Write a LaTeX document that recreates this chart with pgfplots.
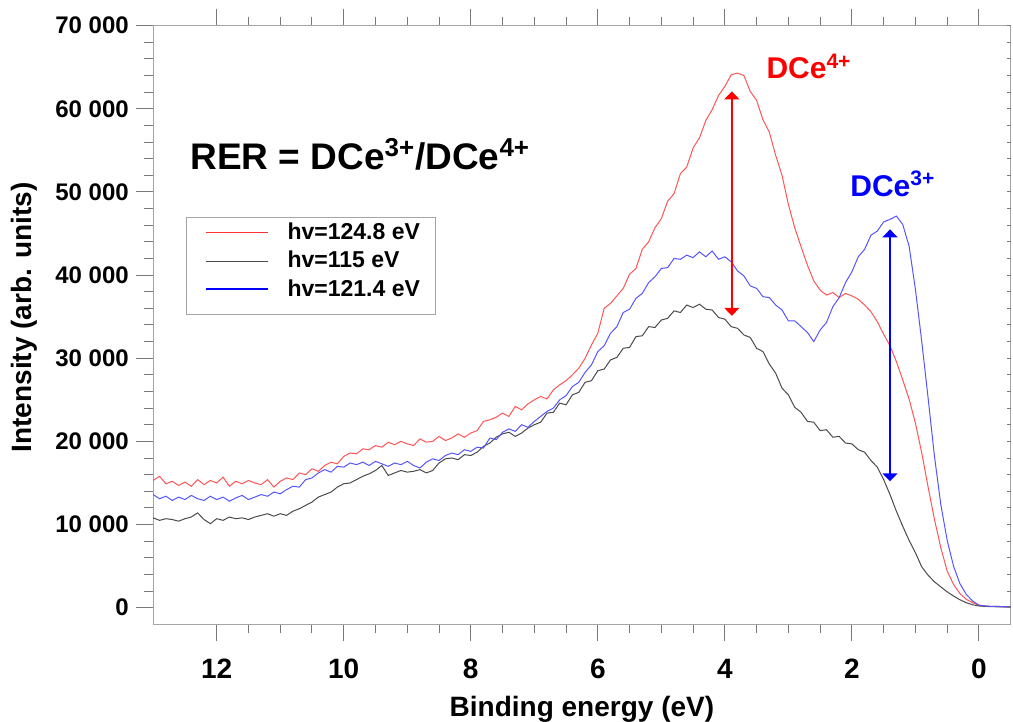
\documentclass[border=0pt]{standalone}
\usepackage{fontspec}
\setmainfont{Liberation Sans}
\usepackage{pgfplots}
\pgfplotsset{compat=1.18}
\usetikzlibrary{arrows.meta}

\definecolor{lineRed}{RGB}{255,85,85}
\definecolor{lineBlack}{RGB}{75,75,75}
\definecolor{lineBlue}{RGB}{85,85,255}
\definecolor{axgray}{RGB}{165,165,165}
\definecolor{tickgray}{RGB}{120,120,120}

% hv = 124.8 eV
\pgfplotstableread{
E I
13.0 15300
12.9 15800
12.8 14900
12.7 15200
12.6 14700
12.5 15100
12.4 14600
12.3 15400
12.2 14800
12.1 15300
12.0 15000
11.9 15700
11.8 14600
11.7 15200
11.6 14900
11.5 15300
11.4 15000
11.3 14800
11.2 15400
11.1 14500
11.0 15200
10.9 15600
10.8 15400
10.7 16200
10.6 16000
10.5 16700
10.4 16400
10.3 17100
10.2 17500
10.1 17300
10.0 18200
9.9 18600
9.8 18500
9.7 19100
9.6 19000
9.5 19500
9.4 19300
9.3 19900
9.2 19600
9.1 20000
9.0 19700
8.9 19500
8.8 20300
8.7 19900
8.6 20000
8.5 20600
8.4 20100
8.3 20400
8.2 20900
8.1 20500
8.0 21000
7.9 21300
7.8 22400
7.7 22600
7.6 22900
7.5 23400
7.4 23000
7.3 24200
7.2 23800
7.1 24500
7.0 25000
6.9 25400
6.8 25100
6.7 26200
6.6 26800
6.5 27300
6.4 28000
6.3 28800
6.2 30000
6.1 31600
6.0 33000
5.9 36000
5.8 36600
5.7 37500
5.6 38400
5.5 40100
5.4 40800
5.3 43100
5.2 44000
5.1 45700
5.0 46800
4.9 48900
4.8 49800
4.7 52200
4.6 53000
4.5 55300
4.4 56500
4.3 58600
4.2 59900
4.1 61600
4.0 62700
3.9 64100
3.8 64300
3.7 64000
3.6 62100
3.5 61000
3.4 58700
3.3 57200
3.2 54400
3.1 52000
3.0 48500
2.9 45700
2.8 43400
2.7 41200
2.6 39300
2.5 38200
2.4 37600
2.3 37900
2.2 37300
2.1 37800
2.0 37500
1.9 37100
1.8 36400
1.7 35600
1.6 34400
1.5 32900
1.4 31500
1.3 29600
1.2 27400
1.1 25100
1.0 22200
0.9 18600
0.8 14500
0.7 10600
0.6 7200
0.5 4400
0.4 2800
0.3 1700
0.2 1000
0.1 600
0.0 300
-0.1 200
-0.2 150
-0.3 150
-0.4 100
-0.5 100
}\seriesA

% hv = 115 eV
\pgfplotstableread{
E I
13.0 10800
12.9 10500
12.8 10700
12.7 10600
12.6 10400
12.5 10700
12.4 10900
12.3 11400
12.2 10600
12.1 10100
12.0 10700
11.9 10500
11.8 10900
11.7 10700
11.6 10800
11.5 10600
11.4 10900
11.3 11100
11.2 11300
11.1 11000
11.0 11300
10.9 11100
10.8 11600
10.7 11900
10.6 12300
10.5 12700
10.4 13300
10.3 13600
10.2 13900
10.1 14500
10.0 14900
9.9 15000
9.8 15400
9.7 15800
9.6 16100
9.5 16500
9.4 17100
9.3 15900
9.2 16200
9.1 16500
9.0 16300
8.9 16400
8.8 16600
8.7 16200
8.6 16500
8.5 17400
8.4 17900
8.3 18000
8.2 17800
8.1 18400
8.0 18300
7.9 18700
7.8 19400
7.7 19800
7.6 20500
7.5 20900
7.4 21100
7.3 20600
7.2 21000
7.1 21600
7.0 22000
6.9 22300
6.8 23400
6.7 23500
6.6 24600
6.5 24400
6.4 25600
6.3 25900
6.2 27100
6.1 27300
6.0 28500
5.9 28700
5.8 29800
5.7 30100
5.6 31200
5.5 31300
5.4 32600
5.3 32700
5.2 33800
5.1 33700
5.0 34600
4.9 34800
4.8 35700
4.7 35500
4.6 36400
4.5 36100
4.4 36500
4.3 35900
4.2 35800
4.1 34900
4.0 34700
3.9 33800
3.8 33600
3.7 32800
3.6 32500
3.5 31200
3.4 30800
3.3 29300
3.2 28200
3.1 26400
3.0 25600
2.9 24100
2.8 23500
2.7 22400
2.6 22300
2.5 21300
2.4 21400
2.3 20500
2.2 20600
2.1 19800
2.0 19700
1.9 19000
1.8 18700
1.7 17700
1.6 16900
1.5 15400
1.4 13600
1.3 11600
1.2 9800
1.1 8100
1.0 6600
0.9 4900
0.8 3900
0.7 3100
0.6 2500
0.5 1900
0.4 1400
0.3 950
0.2 600
0.1 350
0.0 200
-0.1 150
-0.2 120
-0.3 100
-0.4 100
-0.5 80
}\seriesB

% hv = 121.4 eV
\pgfplotstableread{
E I
13.0 13600
12.9 13100
12.8 13400
12.7 12900
12.6 13300
12.5 13000
12.4 13500
12.3 13100
12.2 12900
12.1 13400
12.0 13000
11.9 13300
11.8 12800
11.7 13200
11.6 13500
11.5 13000
11.4 13300
11.3 13600
11.2 13400
11.1 13900
11.0 13700
10.9 14200
10.8 14600
10.7 14500
10.6 15400
10.5 15600
10.4 16200
10.3 16600
10.2 16300
10.1 17000
10.0 16900
9.9 17400
9.8 17200
9.7 17500
9.6 17100
9.5 17600
9.4 17300
9.3 17000
9.2 17400
9.1 17200
9.0 17600
8.9 17100
8.8 16800
8.7 17500
8.6 17900
8.5 17700
8.4 18300
8.3 18600
8.2 18400
8.1 19000
8.0 18800
7.9 19300
7.8 19200
7.7 20400
7.6 20200
7.5 21100
7.4 21500
7.3 21200
7.2 22000
7.1 21700
7.0 22400
6.9 23000
6.8 23600
6.7 24000
6.6 25000
6.5 25500
6.4 26600
6.3 27100
6.2 28300
6.1 29200
6.0 30800
5.9 31500
5.8 33000
5.7 33800
5.6 35500
5.5 35900
5.4 37200
5.3 37800
5.2 39100
5.1 39800
5.0 40800
4.9 40900
4.8 42000
4.7 41900
4.6 42400
4.5 42100
4.4 42800
4.3 42200
4.2 42900
4.1 41900
4.0 42200
3.9 41600
3.8 40500
3.7 39900
3.6 38700
3.5 38400
3.4 37400
3.3 37300
3.2 36400
3.1 35800
3.0 34500
2.9 34500
2.8 33800
2.7 33100
2.6 32000
2.5 33400
2.4 34300
2.3 36200
2.2 37300
2.1 39100
2.0 40400
1.9 42200
1.8 43100
1.7 44800
1.6 45300
1.5 46400
1.4 46700
1.3 47100
1.2 46100
1.1 43500
1.0 38300
0.9 32000
0.8 25200
0.7 18200
0.6 12400
0.5 8100
0.4 5000
0.3 2900
0.2 1600
0.1 800
0.0 300
-0.1 200
-0.2 150
-0.3 150
-0.4 100
-0.5 100
}\seriesC

\begin{document}
\begin{tikzpicture}
\begin{axis}[
  name=ax,
  scale only axis,
  width=428.75pt, height=299.3pt,
  x dir=reverse,
  xmin=-0.5, xmax=13,
  ymin=-2000, ymax=70000,
  clip=false,
  scaled x ticks=false, scaled y ticks=false,
  xtick={0,2,4,6,8,10,12},
  xticklabels={0,2,4,6,8,10,12},
  minor x tick num=3,
  ytick={0,10000,20000,30000,40000,50000,60000,70000},
  yticklabels={0,10 000,20 000,30 000,40 000,50 000,60 000,70 000},
  minor y tick num=4,
  xtick pos=both, ytick pos=left,
  tick align=outside,
  major tick length=8.5pt, minor tick length=4.5pt,
  axis line style={axgray, line width=0.6pt},
  every tick/.style={tickgray, line width=0.5pt},
  xticklabel style={font=\bfseries\fontsize{14}{16}\selectfont, anchor=base, inner sep=0pt, yshift=-18.5pt},
  yticklabel style={font=\bfseries\fontsize{12}{14}\selectfont, anchor=east, inner sep=0pt, xshift=-3.5pt},
]
\addplot[lineRed, line width=0.5pt] table[x=E, y=I] {\seriesA};
\addplot[lineBlack, line width=0.5pt] table[x=E, y=I] {\seriesB};
\addplot[lineBlue, line width=0.5pt] table[x=E, y=I] {\seriesC};

% peak-height markers
\draw[draw=red, fill=red, line width=0.75pt,
  {Triangle[length=4pt,width=7.5pt]}-{Triangle[length=4pt,width=7.5pt]}]
  (axis cs:3.89,35100) -- (axis cs:3.89,62100);
\draw[draw=blue, fill=blue, line width=0.75pt,
  {Triangle[length=4pt,width=7.5pt]}-{Triangle[length=4pt,width=7.5pt]}]
  (axis cs:1.40,15200) -- (axis cs:1.40,45500);

% legend box with sample lines
\draw[axgray, line width=0.5pt] (axis cs:12.48,46960) rectangle (axis cs:8.56,35260);
\draw[draw=red!80, line width=0.75pt] (axis cs:12.17,45150) -- (axis cs:11.19,45150);
\draw[draw=lineBlack, line width=0.75pt] (axis cs:12.17,41660) -- (axis cs:11.19,41660);
\draw[draw=blue, line width=1pt] (axis cs:12.17,38330) -- (axis cs:11.19,38330);
\node[anchor=base west, inner sep=0pt, font=\bfseries\fontsize{11.5}{13}\selectfont]
  at (axis cs:10.89,44300) {hv=124.8 eV};
\node[anchor=base west, inner sep=0pt, font=\bfseries\fontsize{11.5}{13}\selectfont]
  at (axis cs:10.89,40930) {hv=115 eV};
\node[anchor=base west, inner sep=0pt, font=\bfseries\fontsize{11.5}{13}\selectfont]
  at (axis cs:10.89,37430) {hv=121.4 eV};

\node[anchor=base west, inner sep=0pt, text=red, font=\bfseries\fontsize{15}{17}\selectfont]
  at (axis cs:3.35,63600) {DCe\textsuperscript{4+}};
\node[anchor=base west, inner sep=0pt, text=blue, font=\bfseries\fontsize{15}{17}\selectfont]
  at (axis cs:2.03,49500) {DCe\textsuperscript{3+}};
\node[anchor=base west, inner sep=0pt, font=\bfseries\fontsize{18.5}{21}\selectfont]
  at (axis cs:12.42,52750) {RER = DCe\textsuperscript{3+}/DCe\textsuperscript{4+}};

\node[anchor=base, inner sep=0pt, font=\bfseries\fontsize{14}{16}\selectfont]
  at ([yshift=-45.9pt]rel axis cs:0.5,0) {Binding energy (eV)};
\node[anchor=base, rotate=90, inner sep=0pt, font=\bfseries\fontsize{14}{16}\selectfont]
  at ([xshift=-60.6pt]rel axis cs:0,0.513) {Intensity (arb. units)};
\end{axis}
% short inward ticks on the right-hand side
\begin{axis}[
  at={(ax.south west)}, anchor=south west,
  scale only axis,
  width=428.75pt, height=299.3pt,
  xmin=-0.5, xmax=13,
  ymin=-2000, ymax=70000,
  scaled x ticks=false, scaled y ticks=false,
  xtick=\empty,
  ytick={0,10000,20000,30000,40000,50000,60000,70000},
  minor y tick num=4,
  ytick pos=right, yticklabels={},
  tick align=inside,
  major tick length=2pt, minor tick length=2pt,
  axis line style={draw=none},
  every tick/.style={tickgray, line width=0.5pt},
]
\end{axis}
\pgfresetboundingbox
\path ([shift={(-76.6pt,-48.85pt)}]ax.south west) rectangle ([shift={(1.15pt,12.85pt)}]ax.north east);
\end{tikzpicture}
\end{document}
